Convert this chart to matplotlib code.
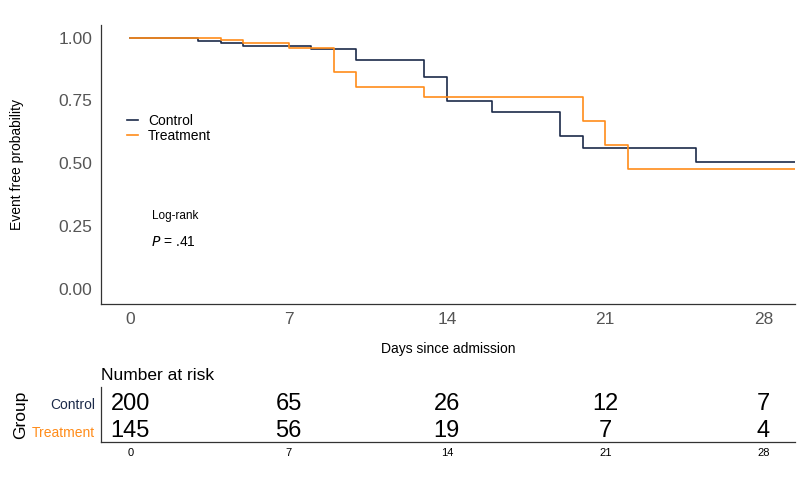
import numpy as np
import matplotlib.pyplot as plt

plt.rcParams["font.family"] = ["Liberation Sans", "DejaVu Sans"]

# survival steps
ctrl_t = [0, 3, 4, 5, 8, 10, 13, 14, 16, 19, 20, 25]
ctrl_s = [1.0, 0.987, 0.977, 0.967, 0.953, 0.910, 0.844, 0.747, 0.704, 0.608, 0.563, 0.506]
trt_t = [0, 4, 5, 7, 9, 10, 13, 20, 21, 22]
trt_s = [1.0, 0.990, 0.979, 0.960, 0.862, 0.805, 0.765, 0.670, 0.575, 0.477]

risk_days = [0, 7, 14, 21, 28]
risk_ctrl = [200, 65, 26, 12, 7]
risk_trt = [145, 56, 19, 7, 4]
groups = ["Treatment", "Control"]

c_ctrl = "#1b2a49"
c_trt = "#ff8c1a"
XMIN, XMAX = -1.3, 29.4

fig = plt.figure(figsize=(8, 4.8), dpi=100)

# main survival plot
ax = fig.add_axes([0.126, 0.367, 0.868, 0.581])
ax.step(ctrl_t + [XMAX], ctrl_s + [ctrl_s[-1]], where='post', color=c_ctrl, lw=1.2, label="Control")
ax.step(trt_t + [XMAX], trt_s + [trt_s[-1]], where='post', color=c_trt, lw=1.2, label="Treatment")
ax.set_xlim(XMIN, XMAX)
ax.set_ylim(-0.058, 1.05)
ax.set_xticks(risk_days)
ax.set_yticks([0, 0.25, 0.5, 0.75, 1.0])
ax.set_yticklabels(["0.00", "0.25", "0.50", "0.75", "1.00"])
ax.tick_params(length=0, labelsize=12.5, labelcolor="#555555", pad=6)
for s in ["top", "right"]:
    ax.spines[s].set_visible(False)
for s in ["left", "bottom"]:
    ax.spines[s].set_color("#333333")
    ax.spines[s].set_linewidth(0.9)
ax.set_ylabel("Event free probability", fontsize=10, labelpad=25)
ax.set_xlabel("Days since admission", fontsize=10, labelpad=11)
ax.legend(loc="upper left", bbox_to_anchor=(0.02, 0.725), frameon=False, fontsize=10,
          handlelength=0.8, handletextpad=0.7, labelspacing=0.05)
ax.text(0.074, 0.315, "Log-rank", transform=ax.transAxes, fontsize=8.5, va='center')
ax.text(0.072, 0.222, "$P$ = .41", transform=ax.transAxes, fontsize=10, va='center')

# number at risk table
tb = fig.add_axes([0.126, 0.0785, 0.868, 0.1155])
for i, d in enumerate(risk_days):
    tb.text(d, 1, str(risk_ctrl[i]), ha='center', va='center', fontsize=17)
    tb.text(d, 0, str(risk_trt[i]), ha='center', va='center', fontsize=17)
tb.set_xlim(XMIN, XMAX)
tb.set_ylim(-0.4, 1.6)
tb.set_xticks(risk_days)
tb.set_yticks([0, 1])
tb.set_yticklabels(groups)
tb.get_yticklabels()[0].set_color(c_trt)
tb.get_yticklabels()[1].set_color(c_ctrl)
tb.tick_params(length=0, labelsize=8, pad=4)
tb.tick_params(axis='y', labelsize=10, pad=4)
for s in ["top", "right"]:
    tb.spines[s].set_visible(False)
for s in ["left", "bottom"]:
    tb.spines[s].set_color("#333333")
    tb.spines[s].set_linewidth(0.9)
tb.set_ylabel("Group", fontsize=12.5, labelpad=3)
tb.set_title("Number at risk", loc='left', fontsize=12.5, pad=5)

plt.savefig("out.png", dpi=100)
plt.close()
